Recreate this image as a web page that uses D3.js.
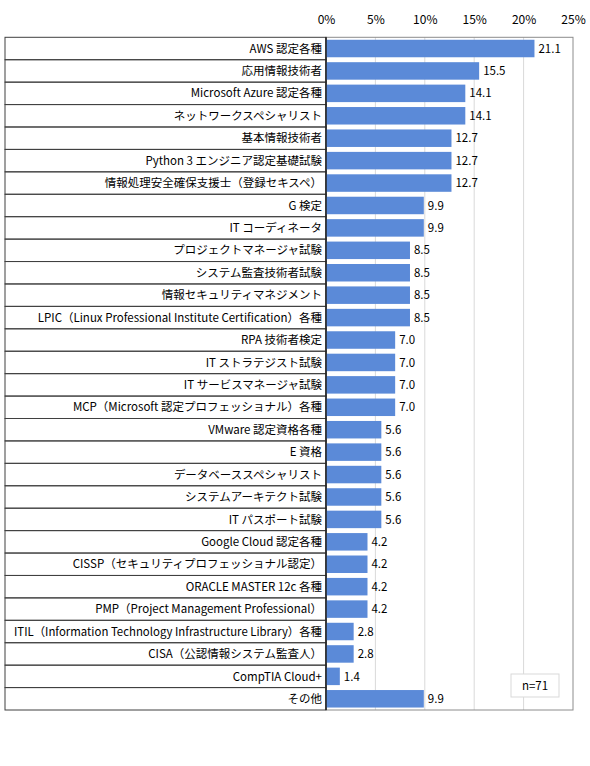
<!DOCTYPE html>
<html>
<head>
<meta charset="utf-8">
<script src="https://cdn.jsdelivr.net/npm/d3@7"></script>
<style>
  body { margin: 0; background: #fff; }
  text { font-family: "Noto Sans CJK JP", "Noto Sans", sans-serif; fill: #000; }
</style>
</head>
<body>
<script>
var w = 590;
var h = 766;

// categories (top to bottom)
var labels = [
  "AWS 認定各種",
  "応用情報技術者",
  "Microsoft Azure 認定各種",
  "ネットワークスペシャリスト",
  "基本情報技術者",
  "Python 3 エンジニア認定基礎試験",
  "情報処理安全確保支援士（登録セキスペ）",
  "G 検定",
  "IT コーディネータ",
  "プロジェクトマネージャ試験",
  "システム監査技術者試験",
  "情報セキュリティマネジメント",
  "LPIC（Linux Professional Institute Certification）各種",
  "RPA 技術者検定",
  "IT ストラテジスト試験",
  "IT サービスマネージャ試験",
  "MCP（Microsoft 認定プロフェッショナル）各種",
  "VMware 認定資格各種",
  "E 資格",
  "データベーススペシャリスト",
  "システムアーキテクト試験",
  "IT パスポート試験",
  "Google Cloud 認定各種",
  "CISSP（セキュリティプロフェッショナル認定）",
  "ORACLE MASTER 12c 各種",
  "PMP（Project Management Professional）",
  "ITIL（Information Technology Infrastructure Library）各種",
  "CISA（公認情報システム監査人）",
  "CompTIA Cloud+",
  "その他"
];

// percentages
var values = [21.1, 15.5, 14.1, 14.1, 12.7, 12.7, 12.7, 9.9, 9.9, 8.5, 8.5, 8.5, 8.5,
  7.0, 7.0, 7.0, 7.0, 5.6, 5.6, 5.6, 5.6, 5.6, 4.2, 4.2, 4.2, 4.2, 2.8, 2.8, 1.4, 9.9];

var ticks = [0, 5, 10, 15, 20, 25];
var note = "n=71";

var leftX = 5, divider = 326, rightX = 573, topY = 37.3, bottomY = 710;

var svg = d3.select("body").append("svg")
  .attr("width", w)
  .attr("height", h);

var x = d3.scaleLinear().domain([0, 25]).range([divider, rightX]);
var y = d3.scaleBand().domain(d3.range(labels.length)).range([topY, bottomY]).paddingInner(0.22).paddingOuter(0.11);
var rows = d3.scaleBand().domain(d3.range(labels.length)).range([topY, bottomY]);

// gridlines
svg.selectAll("line.grid")
  .data(ticks.slice(1, -1))
  .enter().append("line")
  .attr("class", "grid")
  .attr("x1", function(d) { return x(d); })
  .attr("x2", function(d) { return x(d); })
  .attr("y1", topY)
  .attr("y2", bottomY)
  .style("stroke", "#d9d9d9")
  .style("stroke-width", 1);

// top axis labels
var axis = d3.axisTop(x).tickValues(ticks).tickSize(0).tickPadding(0)
  .tickFormat(function(d) { return d + "%"; });
var ax = svg.append("g").attr("transform", "translate(0,24)").call(axis);
ax.select(".domain").remove();
ax.selectAll("text").style("font-size", "12px").style("font-family", "\"Noto Sans CJK JP\", sans-serif");

// plot area border
svg.append("rect")
  .attr("x", divider).attr("y", topY)
  .attr("width", rightX - divider).attr("height", bottomY - topY)
  .style("fill", "none").style("stroke", "#8c8c8c").style("stroke-width", 1);

// label table rows
svg.selectAll("rect.row")
  .data(labels)
  .enter().append("rect")
  .attr("class", "row")
  .attr("x", leftX)
  .attr("y", function(d, i) { return rows(i); })
  .attr("width", divider - leftX)
  .attr("height", rows.bandwidth())
  .style("fill", "none").style("stroke", "#404040").style("stroke-width", 1);

// bars
svg.selectAll("rect.bar")
  .data(values)
  .enter().append("rect")
  .attr("class", "bar")
  .attr("x", x(0))
  .attr("y", function(d, i) { return y(i); })
  .attr("width", function(d) { return x(d) - x(0); })
  .attr("height", y.bandwidth())
  .style("fill", "#5b8ad8");

// divider line
svg.append("line")
  .attr("x1", divider).attr("x2", divider)
  .attr("y1", topY).attr("y2", bottomY)
  .style("stroke", "#202020").style("stroke-width", 1.5);

// category labels
svg.selectAll("text.label")
  .data(labels)
  .enter().append("text")
  .attr("class", "label")
  .attr("x", divider - 4)
  .attr("y", function(d, i) { return rows(i) + rows.bandwidth() / 2; })
  .attr("dy", "0.36em")
  .attr("text-anchor", "end")
  .style("font-size", "11.5px")
  .text(function(d) { return d; })
  .each(function() {
    var len = this.getComputedTextLength();
    if (len > 308) d3.select(this).attr("textLength", 308).attr("lengthAdjust", "spacingAndGlyphs");
  });

// value labels
svg.selectAll("text.value")
  .data(values)
  .enter().append("text")
  .attr("class", "value")
  .attr("x", function(d) { return x(d) + 4; })
  .attr("y", function(d, i) { return y(i) + y.bandwidth() / 2; })
  .attr("dy", "0.36em")
  .style("font-size", "11.5px")
  .text(function(d) { return d.toFixed(1); });

// n note
svg.append("rect")
  .attr("x", 511).attr("y", 674)
  .attr("width", 48).attr("height", 23)
  .style("fill", "#fff").style("stroke", "#d9d9d9");
svg.append("text")
  .attr("x", 535).attr("y", 685.5)
  .attr("dy", "0.36em")
  .attr("text-anchor", "middle")
  .style("font-size", "11.5px")
  .text(note);
</script>
</body>
</html>
